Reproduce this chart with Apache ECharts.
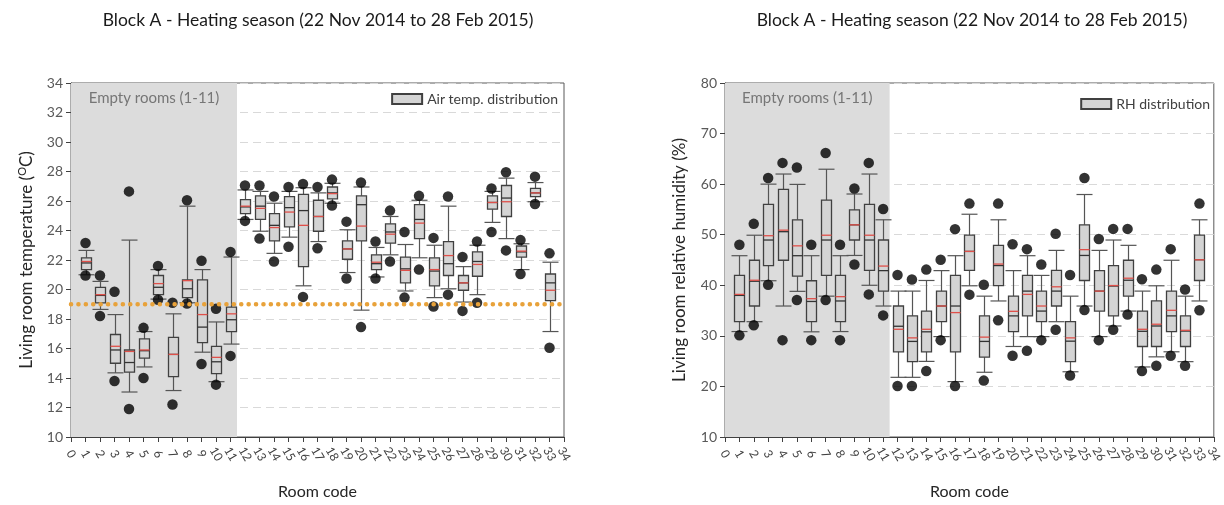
<!DOCTYPE html>
<html><head><meta charset="utf-8">
<script src="https://cdn.jsdelivr.net/npm/echarts@6/dist/echarts.min.js"></script>
<style>html,body{margin:0;padding:0;background:#fff}#c{width:1224px;height:505px}</style>
</head><body><div id="c"></div>
<script>
const rooms = [1,2,3,4,5,6,7,8,9,10,11,12,13,14,15,16,17,18,19,20,21,22,23,24,25,26,27,28,29,30,31,32,33];
const xTicksMin = 0, xTicksMax = 34;
const emptyRoomsEnd = 11.45;
const heatingThreshold = 19;

// Air temperature (°C)
const tempMin    = [21.0,18.65,14.35,13.05,14.75,19.35,13.15,19.1,15.75,13.75,16.3,24.75,23.95,22.45,23.55,20.25,23.25,25.85,21.15,18.6,20.85,22.35,19.9,22.15,19.45,20.05,19.15,19.65,24.55,23.45,21.35,25.95,17.15];
const tempQ1     = [21.35,19.1,15.0,14.4,15.35,19.65,14.1,19.45,16.4,14.3,17.15,25.15,24.75,23.3,24.25,21.55,23.95,26.15,22.05,23.3,21.35,23.15,20.45,23.45,20.25,20.95,19.95,20.9,25.45,24.95,22.2,26.3,19.25];
const tempMedian = [21.8,19.6,15.9,15.05,15.85,20.15,15.6,20.05,17.45,15.1,17.95,25.6,25.65,24.35,25.55,25.35,24.95,26.55,22.75,25.75,21.75,23.9,21.4,24.75,21.25,21.75,20.45,21.9,25.9,26.2,22.55,26.55,20.45];
const tempQ3     = [22.15,20.15,16.95,15.9,16.65,20.95,16.75,20.65,20.65,16.15,18.8,26.1,26.35,25.15,26.3,26.45,26.05,26.95,23.3,26.35,22.35,24.45,22.2,25.75,22.15,23.25,20.95,22.55,26.35,27.05,22.95,26.85,21.05];
const tempMax    = [22.65,20.55,18.3,23.35,17.15,21.35,18.35,25.65,21.35,17.8,22.2,26.75,26.65,25.85,26.65,26.9,26.55,27.2,24.05,26.95,22.85,24.95,23.05,26.05,23.0,25.65,21.55,23.0,26.65,27.55,23.1,27.25,21.85];
const tempMean   = [21.9,19.65,16.15,15.8,15.9,20.4,15.6,20.6,18.3,15.4,18.35,25.65,25.5,24.2,25.25,24.35,24.95,26.5,22.75,24.3,21.85,23.75,21.3,24.5,21.35,22.3,20.45,21.7,25.9,25.95,22.6,26.55,19.95];
const tempOutLow = [20.95,18.2,13.8,11.9,14.0,19.3,12.2,19.05,14.95,13.55,15.5,24.65,23.45,21.9,22.9,19.5,22.8,25.7,20.75,17.45,20.75,21.9,19.45,21.35,18.85,19.65,18.55,19.1,23.9,22.65,21.05,25.8,16.05];
const tempOutHigh= [23.15,20.95,19.85,26.65,17.4,21.6,19.1,26.05,21.95,18.7,22.55,27.05,27.05,26.3,26.95,27.15,26.95,27.45,24.6,27.25,23.25,25.35,23.9,26.35,23.5,26.3,22.2,23.25,26.85,27.95,23.35,27.65,22.45];

// Relative humidity (%)
const rhMin    = [30.85,32.8,40.9,35.9,38.8,30.8,37.85,30.85,45.9,40.0,35.9,21.8,21.8,24.95,29.85,20.95,39.9,22.8,36.9,27.9,29.85,29.85,32.8,22.9,35.9,29.85,31.95,34.9,23.85,25.85,26.85,24.9,36.9];
const rhQ1     = [32.8,35.9,43.9,44.95,41.8,32.8,41.95,32.8,48.95,42.95,38.85,26.85,24.9,26.85,32.8,26.85,42.95,25.8,39.95,30.85,33.95,32.8,35.9,24.9,40.95,34.9,33.95,37.85,27.9,27.9,30.85,27.9,40.95];
const rhMedian = [38.0,40.8,48.95,50.6,45.85,36.8,48.95,36.9,51.95,48.95,42.9,31.9,28.9,30.8,35.9,35.9,46.7,28.9,43.9,33.95,38.85,34.9,38.85,28.95,45.9,38.85,39.85,41.0,30.9,31.95,33.95,30.95,45.05];
const rhQ3     = [41.95,44.95,56.0,58.95,52.95,40.9,56.85,41.95,54.9,56.0,48.95,35.9,33.95,34.9,38.85,41.95,49.9,33.95,47.9,37.85,41.95,38.85,42.95,32.8,51.95,42.9,43.9,44.95,34.9,36.9,38.85,33.95,49.9];
const rhMax    = [45.85,49.9,60.0,62.0,59.95,45.85,62.95,45.85,58.05,62.0,52.95,38.85,38.85,40.95,42.9,45.85,54.05,37.85,52.95,42.9,45.85,41.95,46.9,37.85,57.95,46.9,48.95,47.9,38.85,39.9,44.95,37.85,52.95];
const rhMean   = [38.2,41.0,49.8,50.9,47.8,37.35,49.9,37.75,51.95,49.9,43.8,31.3,29.6,31.3,35.9,34.6,46.7,29.75,44.2,34.85,38.2,35.9,39.7,29.6,47.05,38.85,39.95,41.4,31.3,32.3,35.05,31.1,45.05];
const rhOutLow = [30.1,32.1,40.1,29.15,37.1,29.15,37.1,29.15,44.1,38.2,34.05,20.1,20.1,23.05,29.15,20.1,38.15,21.15,33.1,26.05,27.05,29.15,31.2,22.15,35.1,29.15,31.2,34.2,23.05,24.1,26.05,24.1,35.05];
const rhOutHigh= [48.0,52.15,61.2,64.2,63.3,48.0,66.15,48.0,59.15,64.2,55.1,42.05,41.15,43.1,45.05,51.1,56.15,40.1,56.15,48.1,47.15,44.1,50.2,42.05,61.2,49.15,51.15,51.15,41.2,43.1,47.15,39.15,56.15];

const FONT = 'Lato, "Noto Sans", sans-serif';

function boxData(mn, q1, md, q3, mx, mean) {
  return rooms.map((r, i) => [r, mn[i], q1[i], md[i], q3[i], mx[i], mean[i]]);
}
function outlierData(lo, hi) {
  const out = [];
  rooms.forEach((r, i) => { out.push([r, lo[i]]); out.push([r, hi[i]]); });
  return out;
}
function renderBox(params, api) {
  const x = api.value(0);
  const pMin = api.coord([x, api.value(1)]);
  const pQ1 = api.coord([x, api.value(2)]);
  const pMed = api.coord([x, api.value(3)]);
  const pQ3 = api.coord([x, api.value(4)]);
  const pMax = api.coord([x, api.value(5)]);
  const pMean = api.coord([x, api.value(6)]);
  const cx = Math.round(pMed[0]) + 0.5;
  const bw = 10, cw = 16;
  const ws = { stroke: '#555', lineWidth: 1.2 };
  return { type: 'group', children: [
    { type: 'line', shape: { x1: cx, y1: pMax[1], x2: cx, y2: pQ3[1] }, style: ws },
    { type: 'line', shape: { x1: cx, y1: pQ1[1], x2: cx, y2: pMin[1] }, style: ws },
    { type: 'line', shape: { x1: cx - cw / 2, y1: pMax[1], x2: cx + cw / 2, y2: pMax[1] }, style: ws },
    { type: 'line', shape: { x1: cx - cw / 2, y1: pMin[1], x2: cx + cw / 2, y2: pMin[1] }, style: ws },
    { type: 'rect', shape: { x: cx - bw / 2, y: pQ3[1], width: bw, height: pQ1[1] - pQ3[1] },
      style: { fill: '#d4d4d4', stroke: '#404040', lineWidth: 1.3 } },
    { type: 'line', shape: { x1: cx - bw / 2, y1: pMed[1], x2: cx + bw / 2, y2: pMed[1] }, style: { stroke: '#333', lineWidth: 1.3 } },
    { type: 'line', shape: { x1: cx - bw / 2, y1: pMean[1], x2: cx + bw / 2, y2: pMean[1] }, style: { stroke: '#e0504a', lineWidth: 1.3 } }
  ] };
}

function xAxisCfg(gi) {
  return {
    gridIndex: gi, type: 'value', min: xTicksMin, max: xTicksMax, interval: 1,
    axisLine: { show: true, lineStyle: { color: '#404040', width: 1 } },
    axisTick: { show: true, length: 5, lineStyle: { color: '#404040' } },
    axisLabel: { rotate: -60, align: 'center', verticalAlign: 'middle', margin: 17, fontSize: 12,
      color: '#404040', fontFamily: FONT, showMaxLabel: true, showMinLabel: true, hideOverlap: false },
    splitLine: { show: false },
    name: 'Room code', nameLocation: 'middle', nameGap: 47,
    nameTextStyle: { fontSize: 16, color: '#262626', fontFamily: FONT }
  };
}
function yAxisCfg(gi, min, max, interval, name, gap) {
  return {
    gridIndex: gi, type: 'value', min: min, max: max, interval: interval,
    axisLine: { show: true, lineStyle: { color: '#404040', width: 1 } },
    axisTick: { show: true, length: 5, lineStyle: { color: '#404040' } },
    axisLabel: { fontSize: 14, color: '#595959', margin: 8, fontFamily: FONT },
    splitLine: { show: true, lineStyle: { color: '#d9d9d9', type: [8, 5], width: 1 } },
    name: name, nameLocation: 'middle', nameGap: gap,
    nameTextStyle: { fontSize: 17, color: '#262626', fontFamily: FONT,
      rich: { a: { fontSize: 17, color: '#262626', fontFamily: FONT },
              s: { fontSize: 11, color: '#262626', fontFamily: FONT, verticalAlign: 'bottom', padding: [0, 0, 8, 0] } } }
  };
}
function emptyArea() {
  return {
    silent: true,
    itemStyle: { color: '#dcdcdc' },
    label: { show: true, position: 'insideTop', distance: 8, color: '#767676', fontSize: 15, fontFamily: FONT },
    data: [[{ name: 'Empty rooms (1-11)', xAxis: xTicksMin }, { xAxis: emptyRoomsEnd }]]
  };
}

const TITLE = 'Block A - Heating season (22 Nov 2014 to 28 Feb 2015)';
const chart = echarts.init(document.getElementById('c'), null, { renderer: 'canvas' });
chart.setOption({
  animation: false,
  backgroundColor: '#fff',
  graphic: [
    { type: 'text', x: 318, y: 20, style: { text: TITLE, align: 'center', verticalAlign: 'middle', fontSize: 17.5, fontFamily: FONT, fill: '#1a1a1a' } },
    { type: 'text', x: 972, y: 20, style: { text: TITLE, align: 'center', verticalAlign: 'middle', fontSize: 17.5, fontFamily: FONT, fill: '#1a1a1a' } }
  ],
  grid: [
    { left: 71, top: 83, width: 493, height: 356, show: true, borderColor: '#595959', borderWidth: 1, backgroundColor: 'transparent' },
    { left: 725, top: 83, width: 493, height: 356, show: true, borderColor: '#595959', borderWidth: 1, backgroundColor: 'transparent' }
  ],
  legend: [
    { data: [{ name: 'Air temp. distribution', icon: 'rect' }], right: 666, top: 92, padding: 0,
      itemWidth: 30, itemHeight: 10, itemGap: 8, textStyle: { fontSize: 14, color: '#404040', fontFamily: FONT } },
    { data: [{ name: 'RH distribution', icon: 'rect' }], right: 14, top: 97, padding: 0,
      itemWidth: 30, itemHeight: 10, itemGap: 8, textStyle: { fontSize: 14, color: '#404040', fontFamily: FONT } }
  ],
  xAxis: [xAxisCfg(0), xAxisCfg(1)],
  yAxis: [
    yAxisCfg(0, 10, 34, 2, '{a|Living room temperature (}{s|O}{a|C)}', 35),
    yAxisCfg(1, 10, 80, 10, 'Living room relative humidity (%)', 37)
  ],
  series: [
    { type: 'custom', name: 'Air temp. distribution', xAxisIndex: 0, yAxisIndex: 0,
      itemStyle: { color: '#d4d4d4', borderColor: '#404040', borderWidth: 1 },
      renderItem: renderBox, data: boxData(tempMin, tempQ1, tempMedian, tempQ3, tempMax, tempMean),
      markArea: emptyArea(), z: 2 },
    { type: 'scatter', name: 'temp outliers', xAxisIndex: 0, yAxisIndex: 0, symbol: 'circle', symbolSize: 10.5,
      itemStyle: { color: '#000' }, data: outlierData(tempOutLow, tempOutHigh), z: 4, silent: true },
    { type: 'line', name: 'threshold', xAxisIndex: 0, yAxisIndex: 0, symbol: 'none', silent: true, z: 6,
      lineStyle: { color: '#e8a23a', width: 4.5, type: [0.1, 7.3], cap: 'round' },
      data: [[xTicksMin, heatingThreshold], [xTicksMax, heatingThreshold]] },
    { type: 'custom', name: 'RH distribution', xAxisIndex: 1, yAxisIndex: 1,
      itemStyle: { color: '#d4d4d4', borderColor: '#404040', borderWidth: 1 },
      renderItem: renderBox, data: boxData(rhMin, rhQ1, rhMedian, rhQ3, rhMax, rhMean),
      markArea: emptyArea(), z: 2 },
    { type: 'scatter', name: 'rh outliers', xAxisIndex: 1, yAxisIndex: 1, symbol: 'circle', symbolSize: 10.5,
      itemStyle: { color: '#000' }, data: outlierData(rhOutLow, rhOutHigh), z: 4, silent: true }
  ]
});
</script></body></html>
